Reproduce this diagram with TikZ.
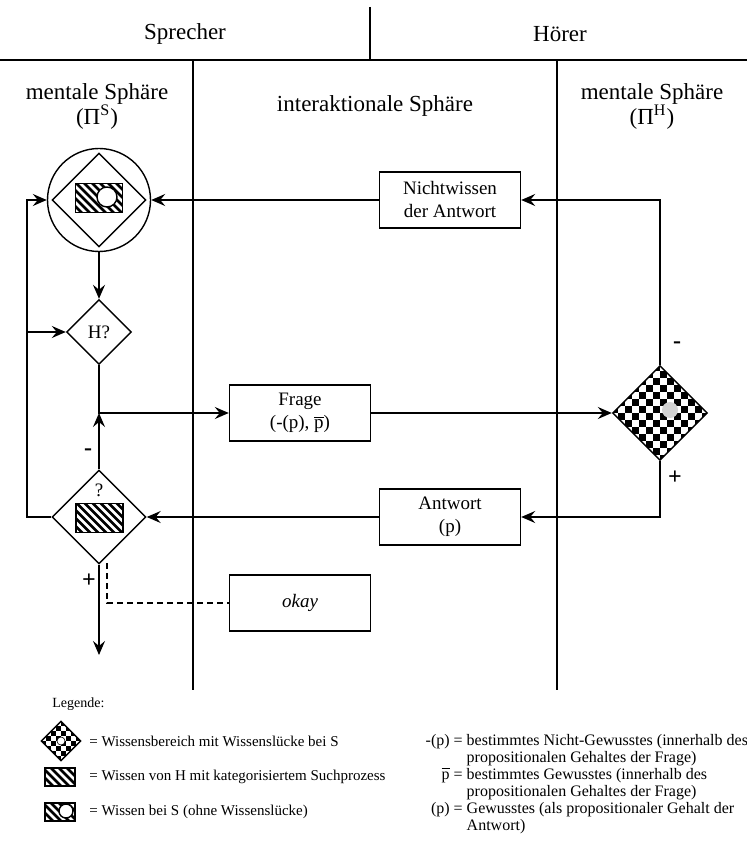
\documentclass[tikz,border=0pt]{standalone}
\usepackage{fontspec}
\setmainfont{Liberation Serif}
\usetikzlibrary{arrows.meta,shapes.geometric,positioning}

% fillings for the knowledge symbols
\newcommand\hatchlines{%
  \foreach \s in {-64,-56,...,64}
    \draw[line width=1.4pt] ([shift={(\s-40,-40)}]path picture bounding box.center) -- ++(80,80);}
\newcommand\checkerfill[1]{%
  \foreach \i in {-8,...,7}{\foreach \j in {-8,...,7}{%
    \pgfmathtruncatemacro\k{mod(\i+\j+16,2)}%
    \ifnum\k=0 \fill ([shift={(\i*#1,\j*#1)}]path picture bounding box.center) rectangle ++(#1,#1);\fi}}}

\begin{document}
\begin{tikzpicture}[x=0.5pt,y=-0.5pt,line width=0.7pt,
    box/.style={draw,minimum width=70.5pt,minimum height=28pt,align=center,font=\fontsize{9.5}{11.5}\selectfont},
    dia/.style={diamond,draw,aspect=1,inner sep=0pt,font=\fontsize{9.5}{11.5}\selectfont},
    hatchbox/.style={draw,rectangle,inner sep=0pt,path picture={\hatchlines}},
    checker/.style={dia,path picture={\checkerfill{#1}}},
    arr/.style={-{Stealth[length=7pt,width=6pt,inset=2.5pt]}},
    sign/.style={font=\fontsize{12}{12}\selectfont\bfseries},
    head/.style={font=\fontsize{11.5}{12.5}\selectfont,align=center},
    leg/.style={anchor=west,font=\fontsize{7.5}{8.3}\selectfont}]
  \useasboundingbox (0,0) rectangle (747,845);

  % columns
  \draw (370,7) -- (370,60);
  \draw[line width=1pt] (0,60) -- (747,60);
  \draw (193,60) -- (193,690);
  \draw (557,60) -- (557,690);
  \node[head] (hsp) at (185,34) {Sprecher};
  \node[head] (hho) at (560,34) {Hörer};
  \node[head] (hms) at (97,106) {mentale Sphäre\\(Π\textsuperscript{S})};
  \node[head] (his) at (375,106) {interaktionale Sphäre};
  \node[head] (hmh) at (652,106) {mentale Sphäre\\(Π\textsuperscript{H})};

  % speaker side
  \node[circle,draw,minimum size=51.5pt,inner sep=0pt] (s0) at (99,200) {};
  \node[dia,minimum size=47pt] (s0d) at (99,200) {};
  \node[hatchbox,minimum width=23.5pt,minimum height=14.5pt] (s0r) at (99,198) {};
  \node[circle,draw,fill=white,minimum size=10pt,inner sep=0pt] (s0c) at (107,197) {};
  \node[dia,minimum size=32.5pt] (hq) at (99,332) {H?};
  \node[dia,minimum size=47pt] (q) at (99,517) {};
  \node[font=\fontsize{9.5}{11.5}\selectfont] (qm) at (99,490) {?};
  \node[hatchbox,minimum width=23.5pt,minimum height=14.5pt] (qr) at (99.5,518) {};

  % interaction
  \node[box] (nw) at (450,200) {Nichtwissen\\der Antwort};
  \node[box] (fr) at (300,413) {Frage\\(-(p), $\overline{\mbox{p}}$)};
  \node[box] (aw) at (450,517) {Antwort\\(p)};
  \node[box,font=\fontsize{9.5}{11.5}\selectfont\itshape] (ok) at (300,603) {okay};

  % hearer side
  \node[checker=7,minimum size=47.5pt] (hk) at (660,413) {};
  \node[circle,fill=gray!35,minimum size=8pt,inner sep=0pt] (hkg) at (670,410) {};

  \coordinate (lt) at (27,200);
  \coordinate (lm) at (27,332);
  \coordinate (jn) at (99,413);
  \coordinate (dq) at (107,563);
  \coordinate (out) at (99,655);

  \draw[arr] (nw) -- (s0);
  \draw[arr] (hk.north) |- (nw.east);
  \draw[arr] (hk.south) |- (aw.east);
  \draw[arr] (aw) -- (q);
  \draw[arr] (s0) -- (hq);
  \draw[arr] (hq.south) |- (fr.west);
  \draw[arr] (fr) -- (hk);
  \draw[arr] (q.north) -- (jn);
  \draw[arr] (q.west) -| (lt) -- (s0.west);
  \draw[arr] (lm) -- (hq.west);
  \draw[arr] (q.south) -- (out);
  \draw[dashed,dash pattern=on 3pt off 2pt] (dq) |- (ok.west);

  \node[sign] (m1) at (88,452) {-};
  \node[sign] (p1) at (89,581) {+};
  \node[sign] (m2) at (677,345) {-};
  \node[sign] (p2) at (675,478) {+};

  % legend
  \node[anchor=west,font=\fontsize{7}{8}\selectfont] (lg) at (45,704) {Legende:};
  \node[checker=5,minimum size=20pt] (l1) at (61,741) {};
  \node[circle,draw,fill=white,minimum size=4pt,inner sep=0pt,line width=0.3pt] (l1c) at (61,741) {};
  \node[leg] (l1t) at (82,741) {= Wissensbereich mit Wissenslücke bei S};
  \node[hatchbox,minimum width=15pt,minimum height=9pt] (l2) at (60,777) {};
  \node[leg] (l2t) at (82,777) {= Wissen von H mit kategorisiertem Suchprozess};
  \node[hatchbox,minimum width=15pt,minimum height=9pt] (l3) at (60,812) {};
  \node[circle,draw,fill=white,minimum size=7pt,inner sep=0pt] (l3c) at (66,811) {};
  \node[leg] (l3t) at (82,812) {= Wissen bei S (ohne Wissenslücke)};
  \node[anchor=base west,font=\fontsize{8}{8.5}\selectfont,inner sep=0pt] (lr) at (425,745)
    {\begin{tabular}[t]{@{}r@{ }c@{ }l@{}}
      -(p) & = & bestimmtes Nicht-Gewusstes (innerhalb des\\
           &   & propositionalen Gehaltes der Frage)\\
      $\overline{\mbox{p}}$ & = & bestimmtes Gewusstes (innerhalb des\\
           &   & propositionalen Gehaltes der Frage)\\
      (p)  & = & Gewusstes (als propositionaler Gehalt der\\
           &   & Antwort)
    \end{tabular}};
\end{tikzpicture}
\end{document}
